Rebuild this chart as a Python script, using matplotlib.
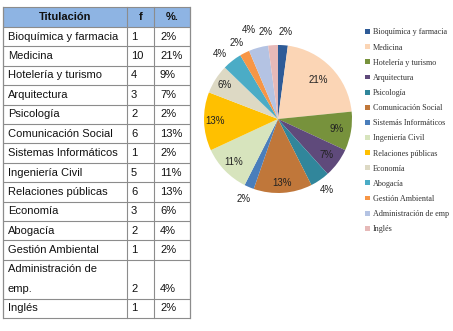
import matplotlib
matplotlib.use("Agg")
import matplotlib.pyplot as plt
from matplotlib.patches import Rectangle
import numpy as np

# ---------------- data ----------------
titulaciones = ["Bioquímica y farmacia", "Medicina", "Hotelería y turismo", "Arquitectura",
                "Psicología", "Comunicación Social", "Sistemas Informáticos", "Ingeniería Civil",
                "Relaciones públicas", "Economía", "Abogacía", "Gestión Ambiental",
                "Administración de\nemp.", "Inglés"]
frecuencias = [1, 10, 4, 3, 2, 6, 1, 5, 6, 3, 2, 1, 2, 1]
porcentajes_tabla = ["2%", "21%", "9%", "7%", "2%", "13%", "2%", "11%", "13%", "6%",
                     "4%", "2%", "4%", "2%"]
leyenda = ["Bioquímica y farmacia", "Medicina", "Hotelería y turismo", "Arquitectura",
           "Psicología", "Comunicación Social", "Sistemás Informáticos", "Ingeniería Civil",
           "Relaciones públicas", "Economía", "Abogacía", "Gestión Ambiental",
           "Administración de emp", "Inglés"]
etiquetas_pie = ["2%", "21%", "9%", "7%", "4%", "13%", "2%", "11%", "13%", "6%",
                 "4%", "2%", "4%", "2%"]
encabezados = ["Titulación", "f", "%."]

# ---------------- styles ----------------
colores = ["#2E5B97", "#FBD5B5", "#77923C", "#5F4A7B", "#31869B", "#C0773A", "#4A7EBB",
           "#D7E4BD", "#FFC000", "#DDD9C4", "#4BACC6", "#F79646", "#B4C3E3", "#E6B9B8"]
dist_etiqueta = [1.18, 0.75, 0.81, 0.82, 1.16, 0.87, 1.18, 0.83, 0.85, 0.85, 1.18, 1.17, 1.27, 1.19]
giro_etiqueta = [1, 0, 0, 0, 0, 0, 0, 0, 0, 0, -3.5, -2, -3, -4]  # degrees, clockwise

W, H = 453, 331
fig = plt.figure(figsize=(W / 100, H / 100), dpi=100)
fig.patch.set_facecolor("white")

# ---------------- table (pixel coordinates) ----------------
tab = fig.add_axes([0, 0, 1, 1])
tab.set_xlim(0, W)
tab.set_ylim(H, 0)
tab.axis("off")

col_x = [3, 127, 154, 190]
y0 = 7
header_h = 20
row_h = 19.4
row_heights = [row_h * (2 if "\n" in t else 1) for t in titulaciones]
row_heights[-1] = 19.6
edges = [y0, y0 + header_h]
for h in row_heights:
    edges.append(edges[-1] + h)

line_c = "#8C8C8C"
tab.add_patch(Rectangle((col_x[0], edges[0]), col_x[-1] - col_x[0], header_h,
                        facecolor="#8EB4E3", edgecolor="none"))
for y in edges:
    tab.plot([col_x[0], col_x[-1]], [y, y], color=line_c, lw=0.8, solid_capstyle="butt")
for x in col_x:
    tab.plot([x, x], [edges[0], edges[-1]], color=line_c, lw=0.9 if x in (col_x[0], col_x[-1]) else 0.8)

fs = 8
hc = (edges[0] + edges[1]) / 2
for i, t in enumerate(encabezados):
    tab.text((col_x[i] + col_x[i + 1]) / 2, hc, t, ha="center", va="center",
             fontsize=fs, fontweight="bold", family="Liberation Sans", color="#111111")

for i, (t, f, p) in enumerate(zip(titulaciones, frecuencias, porcentajes_tabla)):
    top, bot = edges[i + 1], edges[i + 2]
    if "\n" in t:
        a, b = t.split("\n")
        yc1 = top + row_h / 2
        yc2 = bot - row_h / 2
        tab.text(col_x[0] + 5, yc1, a, ha="left", va="center", fontsize=fs, family="Liberation Sans", color="#111111")
        tab.text(col_x[0] + 5, yc2, b, ha="left", va="center", fontsize=fs, family="Liberation Sans", color="#111111")
        yc = yc2
    else:
        yc = (top + bot) / 2
        tab.text(col_x[0] + 5, yc, t, ha="left", va="center", fontsize=fs, family="Liberation Sans", color="#111111")
    tab.text(col_x[1] + 4, yc, str(f), ha="left", va="center", fontsize=fs, family="Liberation Sans", color="#111111")
    tab.text(col_x[2] + 6, yc, p, ha="left", va="center", fontsize=fs, family="Liberation Sans", color="#111111")

# ---------------- pie ----------------
cx, cy, r = 278, 119, 74
ax = fig.add_axes([(cx - r) / W, (H - cy - r) / H, 2 * r / W, 2 * r / H])
wedges, _ = ax.pie(frecuencias, colors=colores, startangle=90, counterclock=False,
                   radius=1, wedgeprops=dict(edgecolor="none", linewidth=0))
ax.set_xlim(-1, 1)
ax.set_ylim(-1, 1)
ax.set_aspect("equal")
ax.axis("off")
for w, lab, d, g in zip(wedges, etiquetas_pie, dist_etiqueta, giro_etiqueta):
    ang = np.deg2rad((w.theta1 + w.theta2) / 2 - g)
    ax.text(d * np.cos(ang), d * np.sin(ang), lab, ha="center", va="center",
            fontsize=7, family="Liberation Sans", color="#222222", clip_on=False)

# ---------------- legend ----------------
handles = [Rectangle((0, 0), 1, 1, facecolor=c, edgecolor="none") for c in colores]
fig.legend(handles, leyenda, loc="upper left", bbox_to_anchor=(365 / W, 1 - 28.5 / H),
           frameon=False, prop=dict(family="Liberation Serif", size=5.9),
           labelspacing=0.87, handlelength=0.55, handleheight=0.55, handletextpad=0.4,
           borderpad=0, borderaxespad=0, labelcolor="#333333")

fig.savefig("out.png", dpi=100)
